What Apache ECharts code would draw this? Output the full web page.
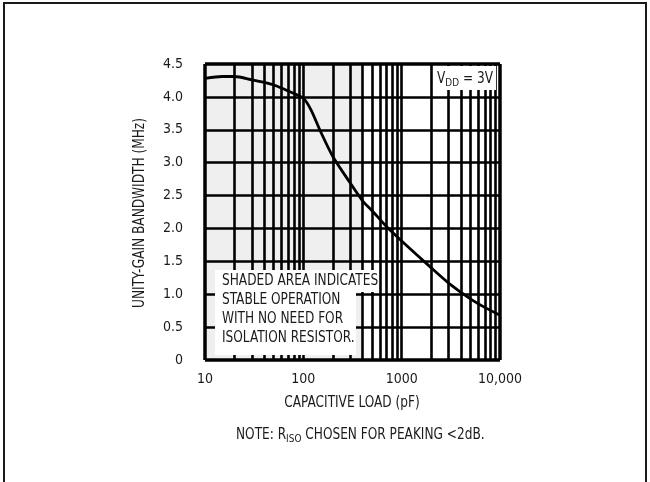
<!DOCTYPE html>
<html>
<head>
<meta charset="utf-8">
<script src="https://cdn.jsdelivr.net/npm/echarts@6/dist/echarts.min.js"></script>
<style>
html,body{margin:0;padding:0;background:#fff;}
#chart{width:650px;height:482px;}
</style>
</head>
<body>
<div id="chart"></div>
<script>
// Capacitive load (pF) and unity-gain bandwidth (MHz)
const capacitance = [10, 15, 20, 30, 40, 50, 70, 100, 120, 150, 200, 300, 400, 500, 700, 1000, 2000, 3000, 5000, 7000, 10000];
const bandwidth   = [4.28, 4.31, 4.31, 4.26, 4.22, 4.18, 4.09, 3.98, 3.80, 3.47, 3.09, 2.69, 2.42, 2.27, 2.03, 1.81, 1.40, 1.17, 0.93, 0.80, 0.68];

// Log grid lines (pF) and linear grid lines (MHz)
const xGridLines = [20, 30, 40, 50, 60, 70, 80, 90, 100, 200, 300, 400, 500, 600, 700, 800, 900, 1000, 2000, 3000, 4000, 5000, 6000, 7000, 8000, 9000];
const yGridLines = [0.5, 1.0, 1.5, 2.0, 2.5, 3.0, 3.5, 4.0];
const xBorder = [10, 10000];
const yBorder = [0, 4.5];

// Shaded (stable) region
const shadeStart = 10;
const shadeEnd = 400;

// Texts
const xAxisTitle = 'CAPACITIVE LOAD (pF)';
const yAxisTitle = 'UNITY-GAIN BANDWIDTH (MHz)';
const shadedNote = ['SHADED AREA INDICATES', 'STABLE OPERATION', 'WITH NO NEED FOR', 'ISOLATION RESISTOR.'];
const vddLabel = [{t: 'V'}, {t: 'DD', sub: true}, {t: ' = 3V'}];
const noteLabel = [{t: 'NOTE: R'}, {t: 'ISO', sub: true}, {t: ' CHOSEN FOR PEAKING <2dB.'}];

const FONT = '"DejaVu Sans Condensed", "Liberation Sans", sans-serif';
const TXT = '#1a1a1a';
const SX = 0.9;   // horizontal squeeze to mimic the narrow typeface

const mctx = document.createElement('canvas').getContext('2d');
function textWidth(t, size) { mctx.font = size + 'px ' + FONT; return mctx.measureText(t).width; }

// one line of text with optional subscripts, as a group of real text elements
function textLine(x, y, parts, opts) {
  const size = opts.size || 15, subSize = opts.subSize || 11;
  let cx = 0;
  const kids = parts.map(p => {
    const s = p.sub ? subSize : size;
    const el = {type: 'text', z: 110, x: cx, y: p.sub ? 4 : 0,
      style: {text: p.t, font: s + 'px ' + FONT, fill: TXT, textVerticalAlign: 'middle'}};
    cx += textWidth(p.t, s);
    return el;
  });
  if (opts.align === 'center') kids.forEach(k => { k.x -= cx / 2; });
  return {type: 'group', x: x, y: y, z: 110, scaleX: SX, rotation: opts.rotation || 0, children: kids};
}

const chart = echarts.init(document.getElementById('chart'), null, {renderer: 'canvas'});

const option = {
  animation: false,
  backgroundColor: '#fff',
  grid: {left: 205, right: 150, top: 64, bottom: 122},
  xAxis: {
    type: 'log', logBase: 10, min: 10, max: 10000,
    axisLine: {show: false}, axisTick: {show: false}, splitLine: {show: false}, minorTick: {show: false},
    axisLabel: {
      fontFamily: FONT, fontSize: 14, color: TXT, margin: 12,
      formatter: function (v) { const r = Math.round(v); return r === 10000 ? '10,000' : String(r); }
    }
  },
  yAxis: {
    type: 'value', min: 0, max: 4.5, interval: 0.5,
    axisLine: {show: false}, axisTick: {show: false}, splitLine: {show: false},
    axisLabel: {
      fontFamily: FONT, fontSize: 14, color: TXT, margin: 22,
      formatter: function (v) { return v === 0 ? '0' : v.toFixed(1); }
    }
  },
  series: [
    {
      name: 'shade', type: 'line', z: 1, silent: true,
      data: capacitance.map((c, i) => [c, bandwidth[i]]),
      showSymbol: false, lineStyle: {opacity: 0},
      markArea: {
        silent: true,
        itemStyle: {color: '#efefef'},
        data: [[{xAxis: shadeStart, yAxis: 0}, {xAxis: shadeEnd, yAxis: 4.5}]]
      }
    },
    {
      name: 'grid', type: 'line', z: 2, silent: true,
      data: capacitance.map((c, i) => [c, bandwidth[i]]),
      showSymbol: false, lineStyle: {opacity: 0},
      markLine: {
        silent: true, symbol: ['none', 'none'], label: {show: false},
        lineStyle: {color: '#000', width: 2.6, type: 'solid'},
        data: xGridLines.map(v => ({xAxis: v}))
          .concat(yGridLines.map(v => ({yAxis: v})))
          .concat(xBorder.map(v => ({xAxis: v, lineStyle: {width: 3.5}})))
          .concat(yBorder.map(v => ({yAxis: v, lineStyle: {width: 3.5}})))
      }
    },
    {
      name: 'UGBW', type: 'line', z: 3, silent: true,
      data: capacitance.map((c, i) => [c, bandwidth[i]]),
      showSymbol: false, smooth: 0.25,
      lineStyle: {color: '#000', width: 2.8}
    }
  ],
  graphic: [
    // outer frame
    {type: 'rect', z: 100, shape: {x: 4, y: 3, width: 642, height: 520}, style: {fill: 'none', stroke: '#1a1a1a', lineWidth: 2}},
    // axis titles
    textLine(352, 403, [{t: xAxisTitle}], {align: 'center'}),
    textLine(140, 213, [{t: yAxisTitle}], {align: 'center', rotation: Math.PI / 2}),
    // shaded-area note box
    {type: 'rect', z: 100, shape: {x: 215, y: 270, width: 163, height: 22}, style: {fill: '#fff'}},
    {type: 'rect', z: 100, shape: {x: 215, y: 291, width: 141, height: 64}, style: {fill: '#fff'}},
    textLine(222, 281, [{t: shadedNote[0]}], {}),
    textLine(222, 300, [{t: shadedNote[1]}], {}),
    textLine(222, 319, [{t: shadedNote[2]}], {}),
    textLine(222, 338, [{t: shadedNote[3]}], {}),
    // VDD box
    {type: 'rect', z: 100, shape: {x: 434, y: 66, width: 62, height: 24}, style: {fill: '#fff'}},
    textLine(437, 79, vddLabel, {}),
    // note line
    textLine(236, 435, noteLabel, {})
  ]
};
chart.setOption(option);
</script>
</body>
</html>
